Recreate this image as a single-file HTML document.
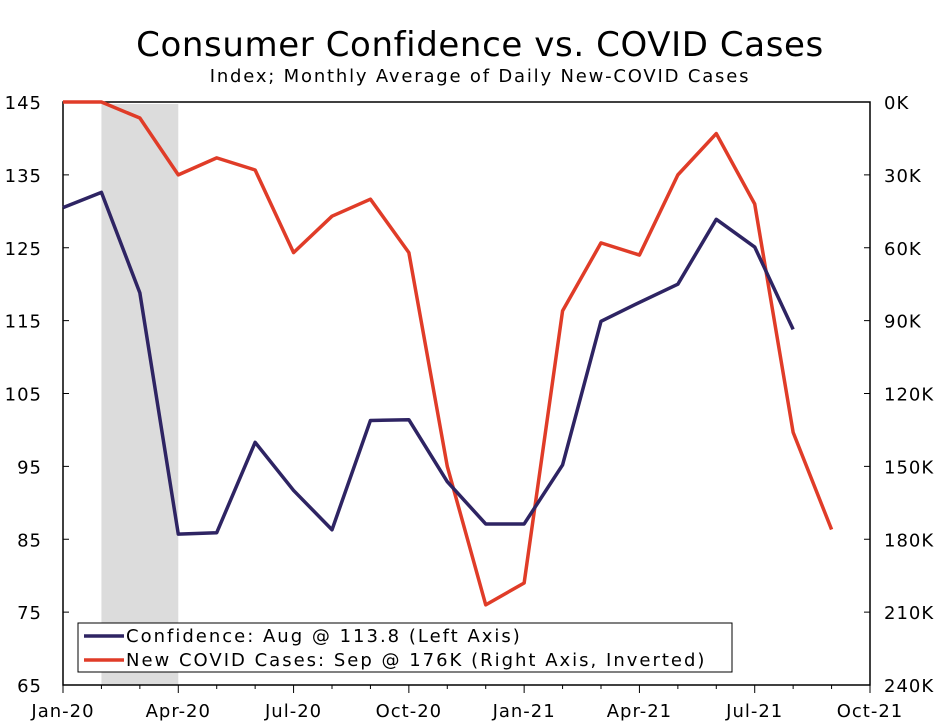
<!DOCTYPE html>
<html><head><meta charset="utf-8"><style>
body{margin:0;background:#fff;}
svg{display:block;font-family:"DejaVu Sans",Verdana,"Liberation Sans",sans-serif;}
</style></head><body>
<svg id="chart" width="947" height="727" viewBox="0 0 947 727">
<text x="480" y="56" font-size="34" letter-spacing="0.6" text-anchor="middle">Consumer Confidence vs. COVID Cases</text>
<text x="480" y="82" font-size="18" letter-spacing="1.8" text-anchor="middle">Index; Monthly Average of Daily New-COVID Cases</text>
<g id="plot"></g>
</svg>
<script>
const months = ["Jan-20","Feb-20","Mar-20","Apr-20","May-20","Jun-20","Jul-20","Aug-20","Sep-20","Oct-20","Nov-20","Dec-20","Jan-21","Feb-21","Mar-21","Apr-21","May-21","Jun-21","Jul-21","Aug-21","Sep-21"];
const confidence = [130.5,132.6,118.8,85.7,85.9,98.3,91.7,86.3,101.3,101.4,92.9,87.1,87.1,95.2,114.9,117.5,120.0,128.9,125.1,113.8];
const covidK = [0,0,6.6,30,23,28,62,47,40,62,150,207,198,86,58,63,30,13,42,136,176];
const xTickLabels = ["Jan-20","Apr-20","Jul-20","Oct-20","Jan-21","Apr-21","Jul-21","Oct-21"];
const leftTicks = [65,75,85,95,105,115,125,135,145];
const rightTicks = [0,30,60,90,120,150,180,210,240];
const L=63,R=870,T=102,B=685;
const x = i => L + (R-L)*i/21;
const yL = v => B - (v-65)/80*(B-T);
const yR = v => T + v/240*(B-T);
const NS="http://www.w3.org/2000/svg";
const g=document.getElementById('plot');
function el(t,a,txt){const e=document.createElementNS(NS,t);for(const k in a)e.setAttribute(k,a[k]);if(txt!==undefined)e.textContent=txt;g.appendChild(e);return e;}
let s=el('rect',{x:x(1),y:T+2,width:x(3)-x(1),height:B-T-2,fill:'#dcdcdc'});


let a=el('rect',{x:L,y:T,width:R-L,height:B-T,fill:'none',stroke:'#000','stroke-width':1.5});


leftTicks.forEach(v=>{
 let t=el('text',{x:42,y:yL(v)+7,'font-size':18,'letter-spacing':1,'text-anchor':'end'},String(v));
 
 
 el('line',{x1:L,x2:L+6,y1:yL(v),y2:yL(v),stroke:'#000'});
});
rightTicks.forEach(v=>{
 let t=el('text',{x:884,y:yR(v)+7,'font-size':18,'letter-spacing':1,'text-anchor':'start'},v+'K');
 
 
 el('line',{x1:R-6,x2:R,y1:yR(v),y2:yR(v),stroke:'#000'});
});
for(let i=0;i<=21;i++){el('line',{x1:x(i),x2:x(i),y1:B,y2:B+(i%3==0?8:4),stroke:'#000'});}
xTickLabels.forEach((lab,j)=>{
 let t=el('text',{x:x(j*3),y:717,'font-size':18,'letter-spacing':1,'text-anchor':'middle'},lab);
 
 
});
let p1=el('polyline',{points:covidK.map((v,i)=>x(i)+','+yR(v)).join(' '),fill:'none',stroke:'#e03c28','stroke-width':3.5,'stroke-linejoin':'round'});


let p2=el('polyline',{points:confidence.map((v,i)=>x(i)+','+yL(v)).join(' '),fill:'none',stroke:'#2e2463','stroke-width':3.5,'stroke-linejoin':'round'});


let lg=el('rect',{x:78,y:623,width:654,height:49,fill:'#fff',stroke:'#000','stroke-width':1});


el('line',{x1:84,x2:124,y1:636,y2:636,stroke:'#2e2463','stroke-width':3.5});
el('line',{x1:84,x2:124,y1:660,y2:660,stroke:'#e03c28','stroke-width':3.5});
let l1=el('text',{x:126,y:642,'font-size':18,'letter-spacing':2},'Confidence: Aug @ 113.8 (Left Axis)');


let l2=el('text',{x:126,y:666,'font-size':18,'letter-spacing':2},'New COVID Cases: Sep @ 176K (Right Axis, Inverted)');


</script>
</body></html>
